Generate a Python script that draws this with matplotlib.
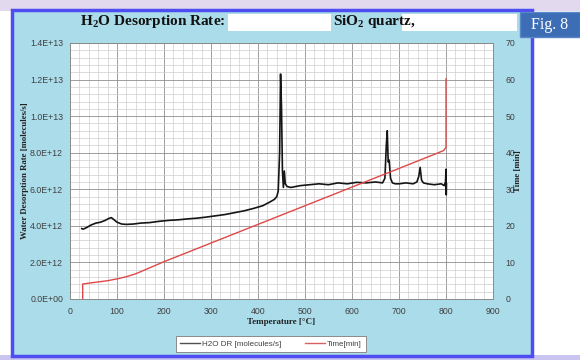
import matplotlib
matplotlib.use("Agg")
import matplotlib.pyplot as plt
from matplotlib.patches import Rectangle
from matplotlib.lines import Line2D
from matplotlib.ticker import MultipleLocator, FuncFormatter

plt.rcParams['mathtext.fontset'] = 'custom'
plt.rcParams['mathtext.rm'] = 'Liberation Serif:bold'
plt.rcParams['mathtext.bf'] = 'Liberation Serif:bold'

# ---------------- data ----------------
temp_dr = [25, 28, 35, 45, 55, 65, 75, 82, 88, 93, 100, 110, 120, 135, 150, 170, 190,
           210, 230, 250, 270, 290, 310, 330, 350, 370, 390, 410, 425, 435, 440, 443,
           446, 448, 450, 452, 454, 456, 458, 462, 470, 490, 510, 530, 550, 570, 590,
           610, 630, 650, 665, 670, 673, 675, 677, 679, 682, 686, 692, 700, 715, 730,
           738, 742, 745, 748, 752, 760, 775, 790, 796, 799, 800, 800.5, 801]
dr_e12 = [3.85, 3.82, 3.90, 4.05, 4.15, 4.20, 4.30, 4.40, 4.45, 4.35, 4.20, 4.10, 4.08,
          4.10, 4.15, 4.18, 4.25, 4.30, 4.33, 4.38, 4.42, 4.48, 4.55, 4.62, 4.72, 4.82,
          4.95, 5.10, 5.30, 5.45, 5.60, 5.90, 8.00, 12.30, 10.50, 7.00, 6.10, 7.00,
          6.30, 6.15, 6.10, 6.20, 6.25, 6.30, 6.25, 6.35, 6.30, 6.38, 6.35, 6.40, 6.35,
          6.60, 8.40, 9.20, 7.50, 7.60, 6.60, 6.35, 6.30, 6.30, 6.35, 6.30, 6.40, 6.70,
          7.20, 6.50, 6.35, 6.30, 6.25, 6.30, 6.20, 6.40, 7.10, 5.70, 6.30]
dr_values = [v * 1e12 for v in dr_e12]

temp_time = [27, 27, 50, 80, 100, 120, 140, 160, 180, 200, 300, 400, 500, 600, 700,
             780, 795, 800, 800]
time_min = [0.0, 4.1, 4.5, 5.0, 5.5, 6.1, 6.9, 8.0, 9.1, 10.2, 15.3, 20.4, 25.5, 30.6,
            35.7, 39.8, 40.6, 41.5, 60.2]

x_ticks = [0, 100, 200, 300, 400, 500, 600, 700, 800, 900]
left_ticks = [0, 2e12, 4e12, 6e12, 8e12, 1e13, 1.2e13, 1.4e13]
right_ticks = [0, 10, 20, 30, 40, 50, 60, 70]

series_labels = ["H2O DR [molecules/s]", "Time[min]"]

# ---------------- figure ----------------
W, H = 580, 360
fig = plt.figure(figsize=(W / 100, H / 100), dpi=100)
fig.patch.set_facecolor('white')


def fx(x):
    return x / W


def fy(y):
    return 1 - y / H


def rect(x0, y0, x1, y1, **kw):
    r = Rectangle((fx(x0), fy(y1)), fx(x1) - fx(x0), fy(y0) - fy(y1),
                  transform=fig.transFigure, **kw)
    fig.add_artist(r)
    return r


# background regions
rect(0, 0, 580, 11, facecolor='#e2d9ee', edgecolor='none', zorder=-10)
rect(0, 355, 580, 360, facecolor='#c9c4f0', edgecolor='none', zorder=-10)
rect(12, 10, 532, 356, facecolor='#abdcea', edgecolor='#4d4df2', linewidth=2.5, zorder=-9)

# title pieces
fig.text(fx(80), fy(22), "H$_2$O Desorption Rate:", family='Liberation Serif',
         weight='bold', fontsize=11, va='center', ha='left', color='#111111')
rect(228, 14, 331, 31, facecolor='white', edgecolor='none', zorder=1)
fig.text(fx(333), fy(22), "SiO$_2$ quartz,", family='Liberation Serif',
         weight='bold', fontsize=11, va='center', ha='left', color='#111111')
rect(402, 14, 517, 31, facecolor='white', edgecolor='none', zorder=1)

# Fig. 8 box
rect(520, 12, 580, 37, facecolor='#3c6db5', edgecolor='#5a86c8', linewidth=1, zorder=2)
fig.text(fx(550), fy(25), "Fig. 8", family='Liberation Serif', fontsize=11.5,
         color='white', ha='center', va='center', zorder=3)

# axes
ax = fig.add_axes([fx(70), fy(299), fx(493) - fx(70), fy(43) - fy(299)])
ax.set_facecolor('white')
ax.set_xlim(0, 900)
ax.set_ylim(0, 1.4e13)
ax.set_xticks(x_ticks)
ax.set_yticks(left_ticks)
ax.xaxis.set_minor_locator(MultipleLocator(20))
ax.yaxis.set_minor_locator(MultipleLocator(4e11))
ax.yaxis.set_major_formatter(FuncFormatter(lambda v, p: "%.1E" % v))
ax.grid(which='major', color='#8e8e8e', linewidth=0.6)
ax.grid(which='minor', color='#cdcdcd', linewidth=0.5)
ax.set_axisbelow(True)
ax.tick_params(which='both', length=0)
ax.tick_params(axis='y', pad=5, labelsize=6.3, labelcolor='#404040')
ax.tick_params(axis='x', pad=6, labelsize=6.3, labelcolor='#404040')
for lab in ax.get_xticklabels() + ax.get_yticklabels():
    lab.set_family('Liberation Sans')
for s in ax.spines.values():
    s.set_color('#8a8a8a')
    s.set_linewidth(0.7)

l1, = ax.plot(temp_dr, dr_values, color='#151515', linewidth=1.2, zorder=3)

ax2 = ax.twinx()
ax2.set_ylim(0, 70)
ax2.set_yticks(right_ticks)
ax2.tick_params(which='both', length=0)
ax2.tick_params(axis='y', pad=9, labelsize=6.3, labelcolor='#404040')
for lab in ax2.get_yticklabels():
    lab.set_family('Liberation Sans')
for s in ax2.spines.values():
    s.set_visible(False)
l2, = ax2.plot(temp_time, time_min, color='#e04848', linewidth=1.0, zorder=3)

# axis titles
fig.text(fx(25), fy(171), "Water Desorption Rate [molecules/s]", rotation=90,
         family='Liberation Serif', weight='bold', fontsize=6.3, ha='center',
         va='center', color='#222222')
fig.text(fx(518), fy(171), "Time [min]", rotation=90, family='Liberation Serif',
         weight='bold', fontsize=6.3, ha='center', va='center', color='#222222')
fig.text(fx(281.5), fy(322), "Temperature [\u00b0C]", family='Liberation Serif',
         weight='bold', fontsize=6.5, ha='center', va='center', color='#222222')

# legend
h1 = Line2D([], [], color='#505050', linewidth=1.0)
h2 = Line2D([], [], color='#d86060', linewidth=1.0)
leg = fig.legend([h1, h2], series_labels, loc='center', ncol=2,
                 bbox_to_anchor=(fx(271), fy(344)), frameon=True, fancybox=False,
                 edgecolor='#8a8a8a', facecolor='white', framealpha=1,
                 prop={'family': 'Liberation Sans', 'size': 5.8},
                 handlelength=2.4, handletextpad=0.3, columnspacing=3.0,
                 borderpad=0.5)
leg.get_frame().set_linewidth(0.7)
for t in leg.get_texts():
    t.set_color('#404040')

fig.savefig("out.png", dpi=100)
